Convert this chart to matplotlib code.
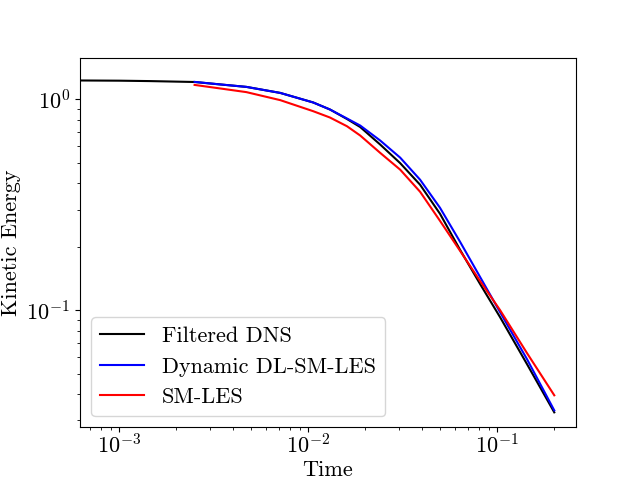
import matplotlib
matplotlib.use("Agg")
import matplotlib.pyplot as plt

plt.rcParams['font.family'] = 'serif'
plt.rcParams['font.serif'] = ['cmr10']
plt.rcParams['mathtext.fontset'] = 'cm'
plt.rcParams['axes.formatter.use_mathtext'] = True
plt.rcParams['font.size'] = 16

# values
t_dns = [0.0005, 0.001, 0.00145, 0.0025, 0.0034, 0.0047, 0.0071, 0.0106, 0.013,
         0.016, 0.0188, 0.024, 0.0306, 0.039, 0.0497, 0.0635, 0.081, 0.1033,
         0.1436, 0.2]
ke_dns = [1.2317, 1.2276, 1.2222, 1.2102, 1.1788, 1.1471, 1.0739, 0.9676, 0.8962,
          0.8075, 0.7396, 0.6105, 0.4984, 0.3937, 0.2866, 0.1931, 0.1330, 0.0926,
          0.0553, 0.0327]

t_les = [0.0025, 0.0034, 0.0047, 0.0071, 0.0106, 0.013, 0.016, 0.0188, 0.024,
         0.0306, 0.039, 0.0497, 0.0635, 0.081, 0.1033, 0.1436, 0.2]
ke_dyn = [1.2115, 1.1788, 1.1471, 1.0739, 0.9676, 0.8962, 0.8121, 0.7519, 0.6380,
          0.5294, 0.4159, 0.3060, 0.2108, 0.1436, 0.0978, 0.0584, 0.0334]
ke_sm = [1.1722, 1.1282, 1.0833, 0.9924, 0.8796, 0.8209, 0.7462, 0.6742, 0.5574,
         0.4642, 0.3645, 0.2653, 0.1910, 0.1374, 0.1, 0.0624, 0.0394]

fig, ax = plt.subplots(figsize=(6.4, 4.8), dpi=100)
ax.loglog(t_dns, ke_dns, color='k', label='Filtered DNS')
ax.loglog(t_les, ke_dyn, color='b', label='Dynamic DL-SM-LES')
ax.loglog(t_les, ke_sm, color='r', label='SM-LES')

ax.set_xlim(6.19e-4, 0.2606)
ax.set_ylim(0.0278, 1.58)
ax.tick_params(axis='x', which='major', pad=1.0)
ax.set_xlabel('Time', labelpad=2)
ax.set_ylabel('Kinetic Energy')
ax.legend(loc='lower left')

fig.savefig('out.png')
